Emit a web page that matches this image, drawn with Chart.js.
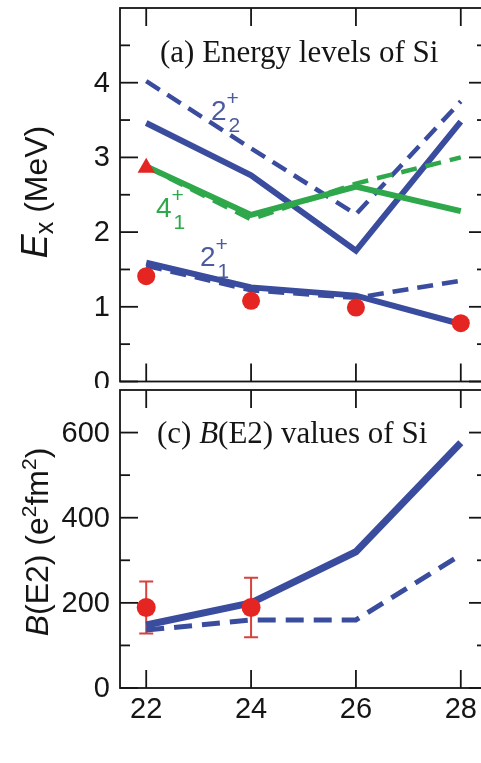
<!DOCTYPE html>
<html lang="en">
<head>
  <meta charset="UTF-8">
  <meta name="viewport" content="width=device-width, initial-scale=1.0">
  <title>Si energy levels and B(E2)</title>
  <script src="https://cdn.jsdelivr.net/npm/chart.js"></script>
  <style>
    html, body { margin: 0; padding: 0; background: #fff; overflow: hidden; }
    #wrap { position: relative; width: 481px; height: 763px; overflow: hidden; background: #fff; }
    canvas { position: absolute; left: 0; }
    #levels { top: 0; }
    #be2 { top: 388px; }
  </style>
</head>
<body>
  <div id="wrap">
    <canvas id="levels" width="490" height="388"></canvas>
    <canvas id="be2" width="490" height="375"></canvas>
  </div>

  <script>
    // neutron number
    const nValues = [22, 24, 26, 28];

    // (a) excitation energies in MeV
    const exp21 = [1.41, 1.08, 0.99, 0.78];
    const exp41N = [22];
    const exp41 = [2.86];
    const calc21 = [1.59, 1.26, 1.15, 0.77];
    const calc21Dash = [1.55, 1.22, 1.12, 1.35];
    const calc41 = [2.88, 2.23, 2.61, 2.28];
    const calc41Dash = [2.88, 2.17, 2.65, 3.0];
    const calc22 = [3.46, 2.76, 1.75, 3.48];
    const calc22Dash = [4.02, 3.12, 2.24, 3.75];
    const levelTicks = [0, 1, 2, 3, 4];
    const levelMinor = [0.5, 1.5, 2.5, 3.5, 4.5];

    // (c) B(E2) in e^2 fm^2
    const expBE2N = [22, 24];
    const expBE2 = [189, 189];
    const expBE2Err = [61, 70];
    const calcBE2 = [148, 200, 320, 576];
    const calcBE2Dash = [136, 160, 160, 313];
    const be2Ticks = [0, 200, 400, 600];
    const be2Minor = [100, 300, 500];

    const BLUE = '#3a4c9e';
    const BLUE_TXT = '#4c5b9f';
    const GREEN = '#2ea84a';
    const RED = '#e52521';
    const INK = '#151515';
    const SANS = '"Liberation Sans", Arial, sans-serif';
    const SERIF = '"Liberation Serif", "Times New Roman", serif';

    const pts = (ys, xs = nValues) => ys.map((y, i) => ({ x: xs[i], y }));

    const line = (data, width, dash, color) => ({
      data, borderColor: color, borderWidth: width, borderDash: dash || [],
      pointRadius: 0, tension: 0, fill: false
    });

    // write a row of text pieces with their own fonts and baseline shifts
    function drawRuns(ctx, parts, x, y, align) {
      let w = 0;
      parts.forEach(p => { ctx.font = p[1]; w += ctx.measureText(p[0]).width; });
      let cx = align === 'center' ? x - w / 2 : x;
      parts.forEach(p => {
        ctx.font = p[1];
        ctx.fillText(p[0], cx, y + (p[2] || 0));
        cx += ctx.measureText(p[0]).width;
      });
    }

    function levelLabel(ctx, x, y, base, sub, color) {
      ctx.fillStyle = color;
      ctx.textAlign = 'left';
      ctx.textBaseline = 'alphabetic';
      ctx.font = '28px ' + SANS;
      ctx.fillText(base, x, y);
      const w = ctx.measureText(base).width;
      ctx.font = '21px ' + SANS;
      ctx.fillText('+', x + w, y - 15);
      ctx.fillText(sub, x + w + 2, y + 12);
    }

    // frame, inward tick marks on all four sides, and tick labels
    const frameTicks = {
      id: 'frameTicks',
      beforeDraw(chart) {
        const { ctx, width, height } = chart;
        ctx.save();
        ctx.fillStyle = '#fff';
        ctx.fillRect(0, 0, width, height);
        ctx.restore();
      },
      afterDraw(chart, args, opts) {
        const { ctx, chartArea: a, scales: { x, y } } = chart;
        ctx.save();
        ctx.strokeStyle = INK;
        ctx.lineWidth = 1.8;
        const seg = (x1, y1, x2, y2) => { ctx.beginPath(); ctx.moveTo(x1, y1); ctx.lineTo(x2, y2); ctx.stroke(); };
        nValues.forEach(v => {
          const px = x.getPixelForValue(v);
          seg(px, a.top, px, a.top + 18);
          seg(px, a.bottom, px, a.bottom - 18);
        });
        opts.major.forEach(v => {
          const py = y.getPixelForValue(v);
          seg(a.left, py, a.left + 18, py);
          seg(a.right, py, a.right - 18, py);
        });
        opts.minor.forEach(v => {
          const py = y.getPixelForValue(v);
          seg(a.left, py, a.left + 10, py);
          seg(a.right, py, a.right - 10, py);
        });
        ctx.strokeRect(a.left, a.top, a.right - a.left, a.bottom - a.top);

        ctx.fillStyle = INK;
        ctx.font = '29px ' + SANS;
        ctx.textAlign = 'right';
        ctx.textBaseline = 'middle';
        opts.major.forEach(v => ctx.fillText(String(v), a.left - 10, y.getPixelForValue(v) + 1));
        if (opts.xLabels) {
          ctx.textAlign = 'center';
          nValues.forEach(v => ctx.fillText(String(v), x.getPixelForValue(v), a.bottom + 22));
        }
        ctx.restore();
      }
    };

    const levelText = {
      id: 'levelText',
      afterDraw(chart) {
        const { ctx } = chart;
        ctx.save();
        ctx.fillStyle = INK;
        ctx.textAlign = 'left';
        ctx.textBaseline = 'alphabetic';
        drawRuns(ctx, [['(a) Energy levels of Si', '31px ' + SERIF]], 160, 62, 'left');
        levelLabel(ctx, 211, 120, '2', '2', BLUE_TXT);
        levelLabel(ctx, 156, 217, '4', '1', GREEN);
        levelLabel(ctx, 200, 266, '2', '1', BLUE_TXT);
        // rotated axis title
        ctx.fillStyle = INK;
        ctx.translate(47, 192);
        ctx.rotate(-Math.PI / 2);
        drawRuns(ctx, [
          ['E', 'italic 36px ' + SANS],
          ['x', '25px ' + SANS, 6],
          [' (MeV)', '32px ' + SANS]
        ], 0, 0, 'center');
        ctx.restore();
      }
    };

    const be2Text = {
      id: 'be2Text',
      afterDraw(chart) {
        const { ctx } = chart;
        ctx.save();
        ctx.fillStyle = INK;
        ctx.textAlign = 'left';
        ctx.textBaseline = 'alphabetic';
        drawRuns(ctx, [
          ['(c) ', '31px ' + SERIF],
          ['B', 'italic 31px ' + SERIF],
          ['(E2) values of Si', '31px ' + SERIF]
        ], 157, 443 - 388, 'left');
        ctx.translate(48, 542 - 388);
        ctx.rotate(-Math.PI / 2);
        drawRuns(ctx, [
          ['B', 'italic 32px ' + SANS],
          ['(E2) (e', '32px ' + SANS],
          ['2', '21px ' + SANS, -12],
          ['fm', '32px ' + SANS],
          ['2', '21px ' + SANS, -12],
          [')', '32px ' + SANS]
        ], 0, 0, 'center');
        ctx.restore();
      }
    };

    // vertical error bars with caps for the measured B(E2)
    const errorBars = {
      id: 'errorBars',
      beforeDatasetsDraw(chart) {
        const { ctx, scales: { x, y } } = chart;
        ctx.save();
        ctx.strokeStyle = '#d8413d';
        ctx.lineWidth = 2;
        expBE2N.forEach((n, i) => {
          const px = x.getPixelForValue(n);
          const hi = y.getPixelForValue(expBE2[i] + expBE2Err[i]);
          const lo = y.getPixelForValue(expBE2[i] - expBE2Err[i]);
          ctx.beginPath();
          ctx.moveTo(px, hi); ctx.lineTo(px, lo);
          ctx.moveTo(px - 7, hi); ctx.lineTo(px + 7, hi);
          ctx.moveTo(px - 7, lo); ctx.lineTo(px + 7, lo);
          ctx.stroke();
        });
        ctx.restore();
      }
    };

    const scales = (yMax) => ({
      x: { type: 'linear', min: 21.5, max: 28.5, display: false },
      y: { type: 'linear', min: 0, max: yMax, display: false }
    });

    const common = {
      responsive: false,
      animation: false,
      plugins: { legend: { display: false }, tooltip: { enabled: false } }
    };

    new Chart(document.getElementById('levels'), {
      type: 'line',
      data: {
        datasets: [
          { data: pts(exp21), showLine: false, pointRadius: 9, pointBackgroundColor: RED, pointBorderWidth: 0 },
          { data: pts(exp41, exp41N), showLine: false, pointStyle: 'triangle', pointRadius: 10, pointBackgroundColor: RED, pointBorderWidth: 0 },
          line(pts(calc21), 6, null, BLUE),
          line(pts(calc21Dash), 4.5, [16, 9], BLUE),
          line(pts(calc41), 6, null, GREEN),
          line(pts(calc41Dash), 4.5, [16, 9], GREEN),
          line(pts(calc22), 6, null, BLUE),
          line(pts(calc22Dash), 4.5, [16, 9], BLUE)
        ]
      },
      options: {
        ...common,
        layout: { autoPadding: false, padding: { top: 8, bottom: 6.5, left: 120, right: 3 } },
        scales: scales(5),
        plugins: { ...common.plugins, frameTicks: { major: levelTicks, minor: levelMinor, xLabels: false } }
      },
      plugins: [frameTicks, levelText]
    });

    new Chart(document.getElementById('be2'), {
      type: 'line',
      data: {
        datasets: [
          { data: pts(expBE2, expBE2N), showLine: false, pointRadius: 9.5, pointBackgroundColor: RED, pointBorderWidth: 0 },
          line(pts(calcBE2), 7, null, BLUE),
          line(pts(calcBE2Dash), 5, [18, 10], BLUE)
        ]
      },
      options: {
        ...common,
        layout: { autoPadding: false, padding: { top: 2, bottom: 75, left: 120, right: 3 } },
        scales: scales(700),
        plugins: { ...common.plugins, frameTicks: { major: be2Ticks, minor: be2Minor, xLabels: true } }
      },
      plugins: [frameTicks, errorBars, be2Text]
    });
  </script>
</body>
</html>
